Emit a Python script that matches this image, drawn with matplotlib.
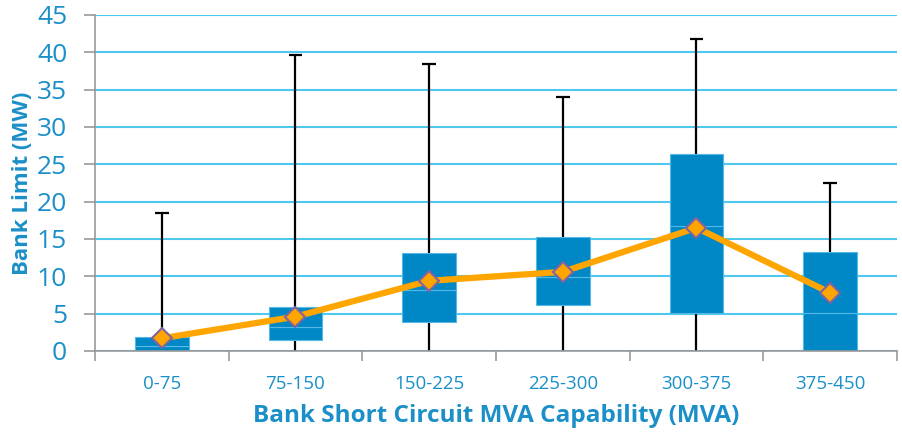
import matplotlib.pyplot as plt
import numpy as np

categories = ["0-75", "75-150", "150-225", "225-300", "300-375", "375-450"]
lo = [0, 0, 0, 0, 0, 0]
q1 = [0.0, 1.5, 3.9, 6.2, 5.1, 0.0]
med = [0.7, 3.2, 8.2, 9.9, 16.7, 5.1]
q3 = [1.9, 5.9, 13.1, 15.3, 26.4, 13.3]
hi = [18.5, 39.6, 38.4, 34.0, 41.8, 22.5]
mean = [1.7, 4.6, 9.4, 10.6, 16.5, 7.8]

blue = "#0088c6"
text_blue = "#1b8fc8"
grid_blue = "#4fc8f0"

fig = plt.figure(figsize=(9.03, 4.33), dpi=100)
ax = fig.add_axes([95 / 903, 1 - 351 / 433, 802 / 903, 336 / 433])

x = np.arange(len(categories))

# whiskers behind the boxes, cap on top only
ax.vlines(x, lo, hi, color="black", lw=1.6, zorder=2)
ax.hlines(hi, x - 0.05, x + 0.05, color="black", lw=1.6, zorder=2)

lower = np.array(med) - np.array(q1)
upper = np.array(q3) - np.array(med)
ax.bar(x, lower, 0.4, bottom=q1, color=blue, edgecolor="#55b8e6", lw=0.8, zorder=3)
ax.bar(x, upper, 0.4, bottom=med, color=blue, edgecolor="#55b8e6", lw=0.8, zorder=3)

ax.plot(x, mean, color="#ffa500", lw=4.5, marker="D", ms=10,
        mfc="#ffa500", mec="#8064a2", mew=1.5, zorder=4)

ax.set_xlim(-0.5, len(categories) - 0.5)
ax.set_ylim(0, 45)
ax.set_yticks(range(0, 46, 5))
ax.set_xticks(x)
ax.set_xticks(np.arange(-0.5, len(categories)), minor=True)
ax.set_xticklabels(categories, fontsize=13.5, color=text_blue, family="Open Sans")
ax.tick_params(axis="x", which="major", length=0, pad=17)
ax.tick_params(axis="x", which="minor", length=7, color="#999999", width=1.2)
ax.tick_params(axis="y", length=8, color="#999999", width=1.2, labelsize=19,
               labelcolor=text_blue, pad=12)
for lab in ax.get_yticklabels():
    lab.set_family("Open Sans")

ax.yaxis.grid(True, color=grid_blue, lw=1.5, zorder=0)
ax.set_axisbelow(True)
for s in ["top", "right"]:
    ax.spines[s].set_visible(False)
for s in ["left", "bottom"]:
    ax.spines[s].set_color("#999999")
    ax.spines[s].set_linewidth(1.2)
    ax.spines[s].set_zorder(5)

ax.set_ylabel("Bank Limit (MW)", fontsize=16, fontweight="bold", color=text_blue,
              family="Open Sans", labelpad=3)
ax.set_xlabel("Bank Short Circuit MVA Capability (MVA)", fontsize=17.5, fontweight="bold",
              color=text_blue, family="Open Sans", labelpad=8)

fig.savefig("out.png", dpi=100)
